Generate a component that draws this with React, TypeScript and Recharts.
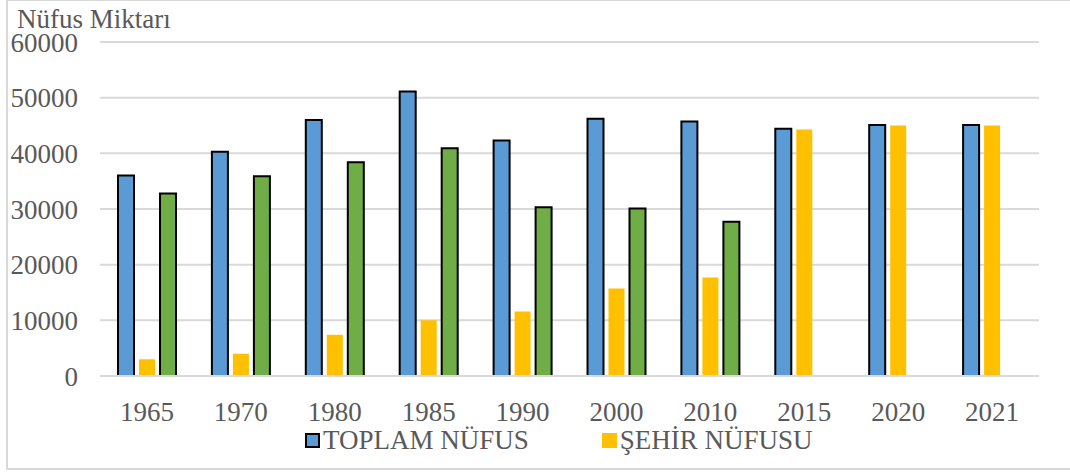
import React from 'react';
import {
    BarChart,
    Bar,
    XAxis,
    YAxis,
    CartesianGrid,
    Legend,
} from 'recharts';

const YEARS = ['1965', '1970', '1980', '1985', '1990', '2000', '2010', '2015', '2020', '2021'];
const TOPLAM = [36000, 40300, 46000, 51100, 42300, 46200, 45700, 44400, 45100, 45100];
const SEHIR = [3000, 4000, 7400, 10000, 11600, 15700, 17700, 44300, 45000, 45000];
const KOY = [32800, 35900, 38400, 40900, 30300, 30100, 27700, null, null, null];
const Y_TICKS = [0, 10000, 20000, 30000, 40000, 50000, 60000];

const FONT = "'Liberation Serif', serif";
const TEXT = '#595959';
const GRID = '#d9d9d9';

// legend look per series (green one is not in the legend)
const SWATCH: Record<string, { fill: string; border: string }> = {
    'TOPLAM NÜFUS': { fill: '#5b9bd5', border: '2px solid #000' },
    'ŞEHİR NÜFUSU': { fill: '#ffc000', border: 'none' },
};

const data = YEARS.map((year, i) => ({
    year,
    toplam: TOPLAM[i],
    sehir: SEHIR[i],
    koy: KOY[i],
}));

const textStyle: React.CSSProperties = {
    fontFamily: FONT,
    fontSize: 27,
    color: TEXT,
    whiteSpace: 'nowrap',
};

function LegendBox(props: any) {
    const items = (props.payload || []).filter((p: any) => SWATCH[p.value]);
    return (
        <div style={{ ...textStyle, display: 'flex', alignItems: 'center', paddingLeft: 305, height: 40, gap: 73 }}>
            {items.map((p: any) => (
                <div key={p.value} style={{ display: 'flex', alignItems: 'center' }}>
                    <span
                        style={{
                            display: 'inline-block',
                            boxSizing: 'border-box',
                            width: 15,
                            height: 15,
                            background: SWATCH[p.value].fill,
                            border: SWATCH[p.value].border,
                            marginRight: 3,
                        }}
                    />
                    <span style={{ ...textStyle, lineHeight: '40px' }}>{p.value}</span>
                </div>
            ))}
        </div>
    );
}

export default function App() {
    return (
        <div style={{ position: 'fixed', left: 0, top: 0, width: 1070, height: 472, background: '#fff', overflow: 'hidden', fontFamily: FONT }}>
            <div
                style={{
                    position: 'absolute',
                    left: 6,
                    top: 0,
                    width: 1100,
                    height: 467,
                    borderTop: `1px solid ${GRID}`,
                    borderLeft: `2px solid ${GRID}`,
                    borderBottom: `2px solid ${GRID}`,
                }}
            />
            <div style={{ ...textStyle, position: 'absolute', left: 17, top: 11, lineHeight: '16px' }}>
                Nüfus Miktarı
            </div>
            <BarChart
                width={1070}
                height={472}
                data={data}
                margin={{ top: 42, right: 31, left: 0, bottom: 0 }}
                barSize={16}
                barGap={5}
                style={{ position: 'absolute', left: 0, top: 0, fontFamily: FONT }}
            >
                <CartesianGrid vertical={false} stroke={GRID} strokeWidth={2} />
                <XAxis
                    dataKey="year"
                    height={56}
                    tickLine={false}
                    tickMargin={20}
                    axisLine={{ stroke: GRID, strokeWidth: 2 }}
                    tick={{ fill: TEXT, fontSize: 27, fontFamily: FONT }}
                />
                <YAxis
                    width={100}
                    domain={[0, 60000]}
                    ticks={Y_TICKS}
                    axisLine={false}
                    tickLine={false}
                    tickMargin={16}
                    tick={{ fill: TEXT, fontSize: 27, fontFamily: FONT }}
                />
                <Legend
                    verticalAlign="bottom"
                    content={<LegendBox />}
                    wrapperStyle={{ left: 0, top: 420, width: 1070, height: 40, fontFamily: FONT }}
                />
                <Bar dataKey="toplam" name="TOPLAM NÜFUS" fill="#5b9bd5" stroke="#000" strokeWidth={2} isAnimationActive={false} />
                <Bar dataKey="sehir" name="ŞEHİR NÜFUSU" fill="#ffc000" isAnimationActive={false} />
                <Bar dataKey="koy" name="KÖY NÜFUSU" fill="#70ad47" stroke="#000" strokeWidth={2} legendType="none" isAnimationActive={false} />
            </BarChart>
        </div>
    );
}
